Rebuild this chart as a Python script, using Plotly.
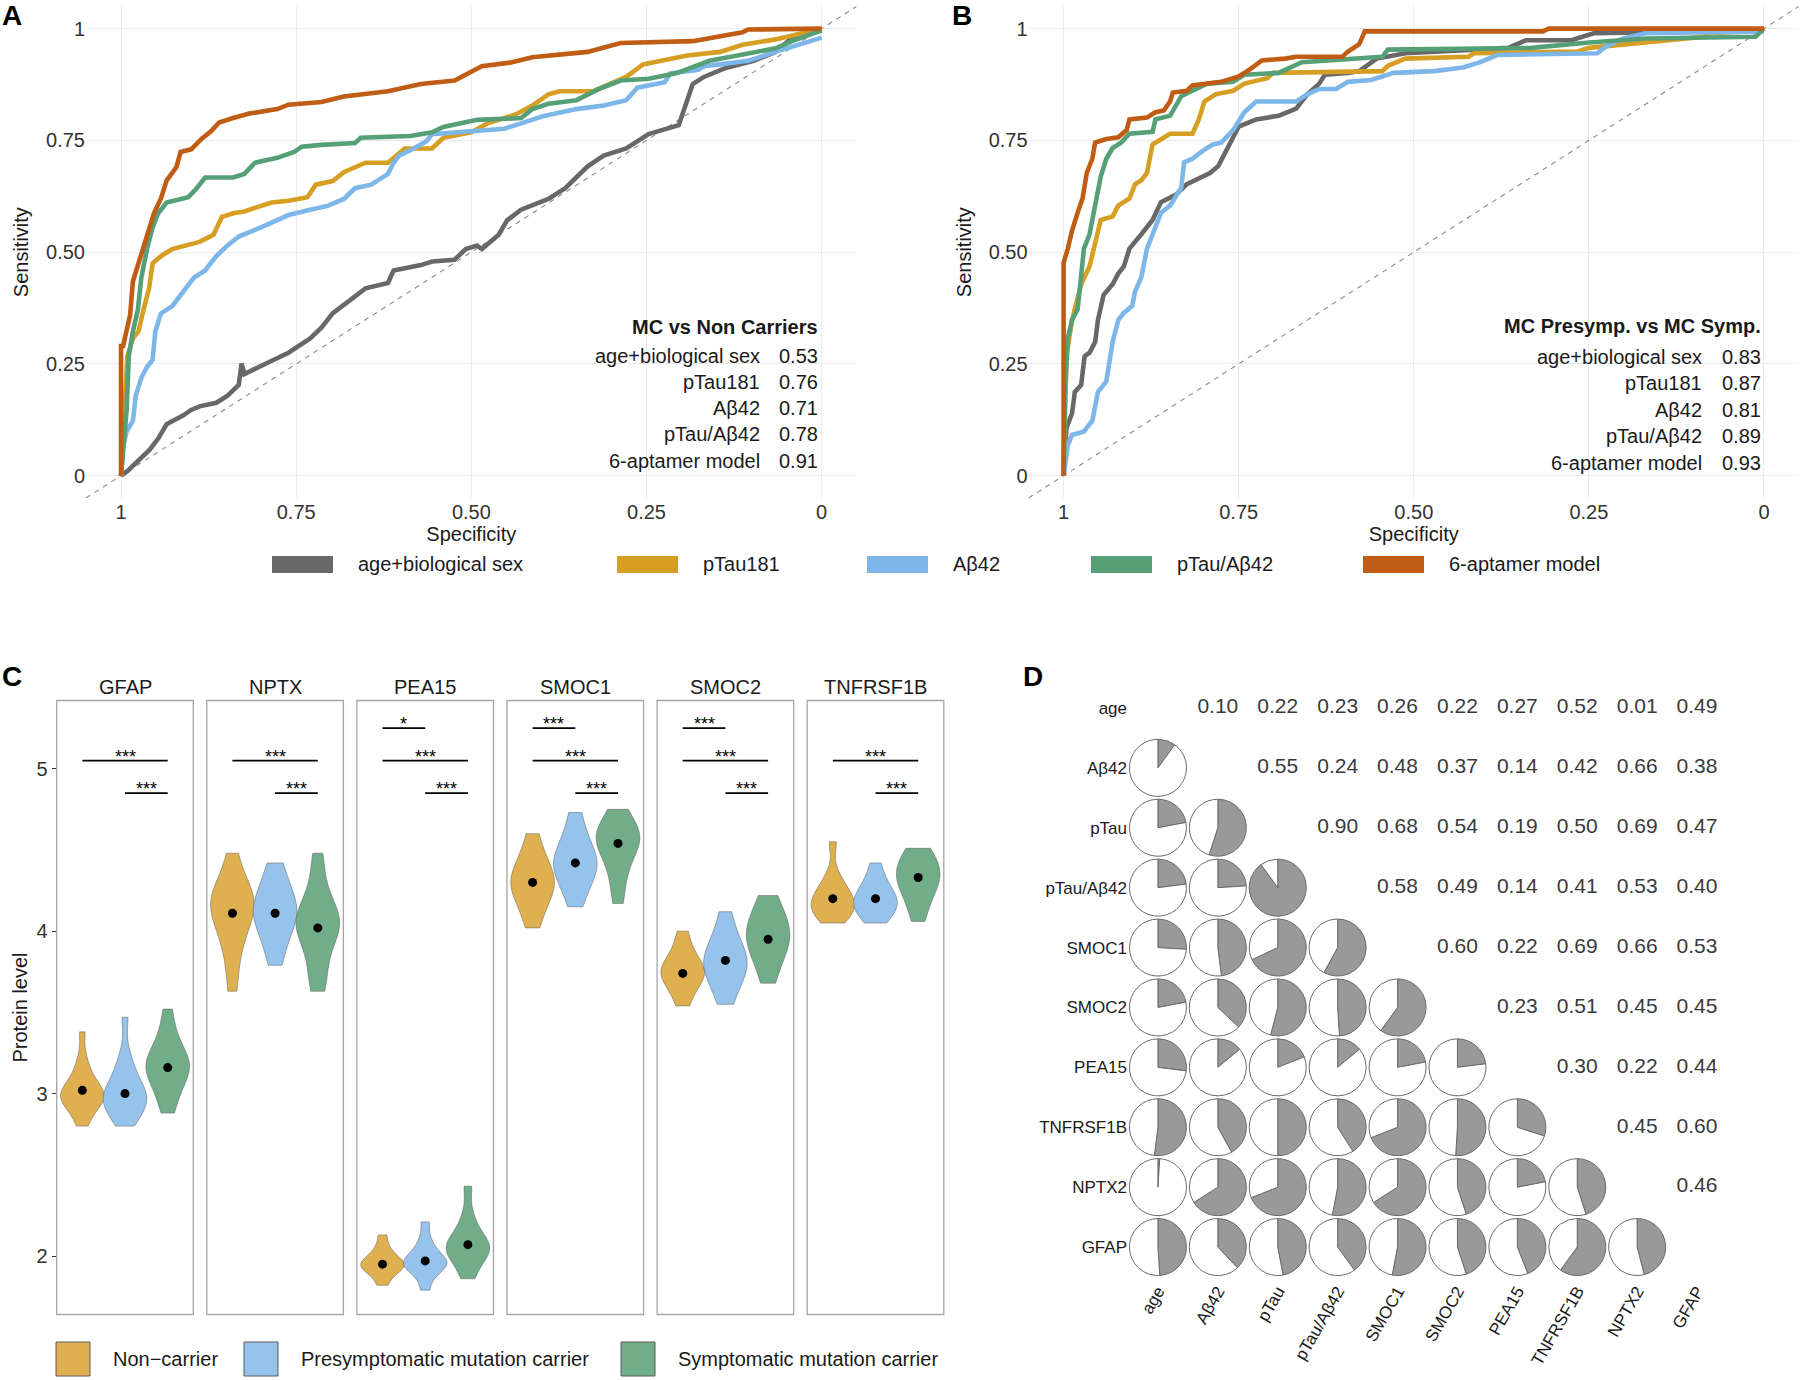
import plotly.graph_objects as go

W, H = 1800, 1380


def px(x):
    return x / W


def py(y):
    return 1 - y / H


FONT = "Liberation Sans, Arial, sans-serif"
TXT = "#1a1a1a"
TICK = "#333333"
GRID = "#EBEBEB"

# ---------------- ROC data ----------------
MODELS = ["age+biological sex", "pTau181", "Aβ42", "pTau/Aβ42", "6-aptamer model"]
MODEL_COLORS = ["#686868", "#D69E22", "#7DB6E8", "#56A077", "#C05C14"]
AUC_A = ["0.53", "0.76", "0.71", "0.78", "0.91"]
AUC_B = ["0.83", "0.87", "0.81", "0.89", "0.93"]
TITLE_A = "MC vs Non Carriers"
TITLE_B = "MC Presymp. vs MC Symp."
SPEC_TICKS = [1, 0.75, 0.5, 0.25, 0]
SPEC_LABELS = ["1", "0.75", "0.50", "0.25", "0"]
SENS_TICKS = [0, 0.25, 0.5, 0.75, 1]
SENS_LABELS = ["0", "0.25", "0.50", "0.75", "1"]

A_AGE_SPEC = [1, 0.991, 0.975, 0.959, 0.947, 0.935, 0.911, 0.900, 0.888, 0.864, 0.848, 0.832, 0.828, 0.824, 0.793, 0.761, 0.730, 0.714, 0.698, 0.682, 0.666, 0.651, 0.619, 0.611, 0.572, 0.556, 0.524, 0.508, 0.492, 0.485, 0.461, 0.449, 0.429, 0.390, 0.366, 0.334, 0.311, 0.279, 0.247, 0.224, 0.204, 0.184, 0.168, 0.137, 0.097, 0.066, 0.042, 0]
A_AGE_SENS = [0, 0.01, 0.034, 0.058, 0.083, 0.115, 0.135, 0.147, 0.155, 0.163, 0.179, 0.203, 0.251, 0.227, 0.251, 0.275, 0.307, 0.331, 0.363, 0.383, 0.403, 0.419, 0.431, 0.459, 0.471, 0.479, 0.483, 0.507, 0.515, 0.507, 0.539, 0.571, 0.595, 0.619, 0.643, 0.692, 0.716, 0.732, 0.764, 0.776, 0.784, 0.876, 0.892, 0.912, 0.928, 0.948, 0.98, 0.996]
A_PTAU_SPEC = [1, 0.991, 0.983, 0.975, 0.968, 0.960, 0.955, 0.943, 0.927, 0.904, 0.888, 0.868, 0.856, 0.840, 0.824, 0.809, 0.785, 0.761, 0.734, 0.722, 0.698, 0.682, 0.651, 0.619, 0.595, 0.556, 0.540, 0.500, 0.477, 0.437, 0.413, 0.390, 0.374, 0.326, 0.303, 0.279, 0.255, 0.232, 0.192, 0.145, 0.113, 0.066, 0.034, 0]
A_PTAU_SENS = [0, 0.267, 0.307, 0.323, 0.371, 0.419, 0.475, 0.491, 0.507, 0.515, 0.523, 0.539, 0.579, 0.587, 0.591, 0.599, 0.611, 0.615, 0.623, 0.651, 0.659, 0.679, 0.70, 0.70, 0.732, 0.732, 0.756, 0.768, 0.788, 0.808, 0.828, 0.853, 0.86, 0.86, 0.876, 0.892, 0.92, 0.928, 0.94, 0.948, 0.964, 0.976, 0.988, 1.0]
A_AB_SPEC = [1, 0.997, 0.992, 0.983, 0.979, 0.971, 0.963, 0.955, 0.951, 0.943, 0.927, 0.919, 0.907, 0.896, 0.880, 0.864, 0.848, 0.832, 0.801, 0.785, 0.761, 0.730, 0.706, 0.682, 0.666, 0.643, 0.619, 0.611, 0.603, 0.587, 0.564, 0.556, 0.524, 0.492, 0.453, 0.429, 0.398, 0.350, 0.311, 0.279, 0.263, 0.224, 0.216, 0.176, 0.168, 0.145, 0.105, 0.066, 0.034, 0]
A_AB_SENS = [0, 0.066, 0.099, 0.123, 0.179, 0.219, 0.243, 0.259, 0.323, 0.363, 0.379, 0.395, 0.419, 0.443, 0.459, 0.491, 0.515, 0.535, 0.555, 0.567, 0.583, 0.595, 0.603, 0.619, 0.643, 0.651, 0.675, 0.70, 0.716, 0.728, 0.748, 0.764, 0.768, 0.772, 0.776, 0.788, 0.804, 0.82, 0.828, 0.84, 0.868, 0.88, 0.90, 0.908, 0.916, 0.92, 0.928, 0.948, 0.964, 0.98]
A_RATIO_SPEC = [1, 0.992, 0.989, 0.983, 0.976, 0.971, 0.963, 0.955, 0.947, 0.935, 0.904, 0.892, 0.880, 0.840, 0.824, 0.809, 0.777, 0.753, 0.742, 0.714, 0.666, 0.658, 0.587, 0.556, 0.540, 0.508, 0.492, 0.429, 0.413, 0.390, 0.350, 0.319, 0.287, 0.247, 0.208, 0.160, 0.105, 0.066, 0.042, 0]
A_RATIO_SENS = [0, 0.147, 0.267, 0.323, 0.371, 0.443, 0.507, 0.555, 0.587, 0.611, 0.623, 0.643, 0.667, 0.667, 0.675, 0.70, 0.711, 0.724, 0.736, 0.74, 0.744, 0.756, 0.76, 0.768, 0.78, 0.792, 0.796, 0.80, 0.82, 0.832, 0.84, 0.864, 0.884, 0.888, 0.90, 0.928, 0.944, 0.956, 0.972, 0.996]
A_APT_SPEC = [1, 1, 0.997, 0.987, 0.983, 0.975, 0.968, 0.960, 0.953, 0.943, 0.935, 0.921, 0.915, 0.900, 0.884, 0.872, 0.860, 0.840, 0.817, 0.777, 0.761, 0.714, 0.682, 0.619, 0.572, 0.524, 0.485, 0.445, 0.413, 0.334, 0.287, 0.184, 0.113, 0.105, 0]
A_APT_SENS = [0, 0.29, 0.29, 0.36, 0.435, 0.475, 0.515, 0.555, 0.587, 0.62, 0.66, 0.69, 0.724, 0.73, 0.755, 0.77, 0.79, 0.80, 0.81, 0.82, 0.83, 0.836, 0.848, 0.86, 0.876, 0.884, 0.916, 0.924, 0.936, 0.948, 0.968, 0.972, 0.992, 0.998, 1.0]

B_AGE_SPEC = [1, 0.996, 0.988, 0.984, 0.975, 0.970, 0.963, 0.955, 0.951, 0.943, 0.930, 0.922, 0.914, 0.906, 0.889, 0.873, 0.861, 0.840, 0.824, 0.791, 0.779, 0.766, 0.750, 0.725, 0.693, 0.668, 0.652, 0.635, 0.627, 0.594, 0.578, 0.553, 0.512, 0.365, 0.340, 0.275, 0.242, 0]
B_AGE_SENS = [0, 0.107, 0.139, 0.187, 0.203, 0.267, 0.275, 0.299, 0.348, 0.404, 0.428, 0.452, 0.468, 0.508, 0.540, 0.572, 0.612, 0.628, 0.652, 0.677, 0.693, 0.733, 0.781, 0.797, 0.805, 0.821, 0.853, 0.877, 0.897, 0.901, 0.905, 0.933, 0.945, 0.957, 0.974, 0.974, 0.990, 0.996]
B_PTAU_SPEC = [1, 0.996, 0.988, 0.975, 0.963, 0.955, 0.947, 0.930, 0.922, 0.906, 0.898, 0.889, 0.881, 0.873, 0.865, 0.848, 0.816, 0.807, 0.799, 0.783, 0.758, 0.742, 0.709, 0.701, 0.545, 0.537, 0.512, 0.422, 0.414, 0.266, 0.250, 0.086, 0.078, 0]
B_PTAU_SENS = [0, 0.267, 0.348, 0.428, 0.468, 0.524, 0.572, 0.580, 0.604, 0.620, 0.652, 0.661, 0.677, 0.741, 0.749, 0.765, 0.765, 0.797, 0.837, 0.853, 0.861, 0.877, 0.889, 0.901, 0.905, 0.917, 0.933, 0.937, 0.945, 0.949, 0.957, 0.982, 0.99, 0.996]
B_AB_SPEC = [1, 0.994, 0.988, 0.971, 0.959, 0.951, 0.939, 0.930, 0.922, 0.914, 0.902, 0.898, 0.889, 0.881, 0.869, 0.861, 0.848, 0.832, 0.828, 0.816, 0.803, 0.787, 0.775, 0.758, 0.742, 0.725, 0.668, 0.652, 0.635, 0.611, 0.594, 0.561, 0.545, 0.529, 0.471, 0.430, 0.405, 0.381, 0.238, 0.225, 0.201, 0.168, 0]
B_AB_SENS = [0, 0.067, 0.091, 0.099, 0.123, 0.187, 0.211, 0.299, 0.348, 0.364, 0.380, 0.412, 0.444, 0.508, 0.556, 0.588, 0.604, 0.644, 0.701, 0.709, 0.725, 0.741, 0.745, 0.773, 0.813, 0.837, 0.837, 0.853, 0.865, 0.865, 0.881, 0.885, 0.893, 0.901, 0.905, 0.913, 0.925, 0.941, 0.945, 0.961, 0.978, 0.990, 0.994]
B_RATIO_SPEC = [1, 0.998, 0.994, 0.988, 0.980, 0.975, 0.971, 0.963, 0.955, 0.947, 0.939, 0.930, 0.918, 0.906, 0.873, 0.869, 0.848, 0.840, 0.832, 0.816, 0.795, 0.758, 0.742, 0.693, 0.660, 0.545, 0.537, 0.332, 0.250, 0.168, 0.012, 0]
B_RATIO_SENS = [0, 0.187, 0.307, 0.348, 0.372, 0.444, 0.508, 0.540, 0.604, 0.669, 0.709, 0.733, 0.745, 0.765, 0.769, 0.797, 0.805, 0.829, 0.849, 0.861, 0.877, 0.881, 0.897, 0.901, 0.925, 0.937, 0.953, 0.957, 0.969, 0.978, 0.982, 1.0]
B_APT_SPEC = [1, 1, 0.994, 0.988, 0.980, 0.973, 0.967, 0.959, 0.955, 0.939, 0.922, 0.910, 0.906, 0.881, 0.869, 0.857, 0.848, 0.844, 0.824, 0.816, 0.775, 0.750, 0.734, 0.717, 0.684, 0.668, 0.602, 0.594, 0.578, 0.570, 0.316, 0.307, 0]
B_APT_SENS = [0, 0.476, 0.508, 0.548, 0.588, 0.62, 0.677, 0.709, 0.745, 0.753, 0.757, 0.773, 0.797, 0.801, 0.813, 0.817, 0.837, 0.857, 0.861, 0.873, 0.881, 0.893, 0.909, 0.929, 0.933, 0.937, 0.937, 0.949, 0.965, 0.994, 0.994, 1.0, 1.0]

ROC_A = [(A_AGE_SPEC, A_AGE_SENS), (A_PTAU_SPEC, A_PTAU_SENS), (A_AB_SPEC, A_AB_SENS),
         (A_RATIO_SPEC, A_RATIO_SENS), (A_APT_SPEC, A_APT_SENS)]
ROC_B = [(B_AGE_SPEC, B_AGE_SENS), (B_PTAU_SPEC, B_PTAU_SENS), (B_AB_SPEC, B_AB_SENS),
         (B_RATIO_SPEC, B_RATIO_SENS), (B_APT_SPEC, B_APT_SENS)]

# ---------------- Violin data ----------------
PROTEINS = ["GFAP", "NPTX", "PEA15", "SMOC1", "SMOC2", "TNFRSF1B"]
GROUPS = ["Non\u2212carrier", "Presymptomatic mutation carrier", "Symptomatic mutation carrier"]
GROUP_COLORS = ["#DFB04F", "#96C3EC", "#72AD89"]
GFAP = [[2.80, 2.86, 2.90, 2.93, 2.95, 2.97, 2.98, 2.99, 3.00, 3.02, 3.04, 3.07, 3.10, 3.15, 3.22, 3.38],
        [2.80, 2.85, 2.89, 2.92, 2.94, 2.96, 2.98, 3.00, 3.03, 3.06, 3.10, 3.16, 3.24, 3.47],
        [2.88, 2.96, 3.02, 3.07, 3.11, 3.14, 3.16, 3.18, 3.20, 3.23, 3.27, 3.32, 3.40, 3.52]]
NPTX = [[3.63, 3.80, 3.92, 4.00, 4.06, 4.10, 4.14, 4.17, 4.20, 4.23, 4.27, 4.33, 4.48],
        [3.79, 3.88, 3.96, 4.02, 4.06, 4.09, 4.12, 4.15, 4.18, 4.22, 4.27, 4.35, 4.42],
        [3.63, 3.70, 3.80, 3.90, 3.96, 4.00, 4.03, 4.06, 4.08, 4.11, 4.15, 4.22, 4.35, 4.48]]
PEA15 = [[1.82, 1.88, 1.91, 1.93, 1.94, 1.95, 1.96, 1.98, 2.01, 2.05, 2.13],
         [1.79, 1.88, 1.92, 1.94, 1.95, 1.96, 1.98, 2.00, 2.04, 2.10, 2.21],
         [1.86, 1.94, 1.99, 2.02, 2.04, 2.06, 2.08, 2.11, 2.16, 2.25, 2.43]]
SMOC1 = [[4.02, 4.12, 4.19, 4.24, 4.27, 4.30, 4.33, 4.37, 4.42, 4.48, 4.60],
         [4.15, 4.25, 4.31, 4.36, 4.39, 4.42, 4.45, 4.49, 4.54, 4.62, 4.73],
         [4.17, 4.30, 4.40, 4.47, 4.52, 4.55, 4.58, 4.60, 4.63, 4.67, 4.75]]
SMOC2 = [[3.54, 3.62, 3.67, 3.71, 3.73, 3.75, 3.77, 3.80, 3.84, 3.90, 4.00],
         [3.55, 3.64, 3.70, 3.75, 3.78, 3.81, 3.84, 3.88, 3.93, 4.00, 4.12],
         [3.68, 3.78, 3.85, 3.90, 3.94, 3.97, 4.00, 4.04, 4.09, 4.15, 4.22]]
TNFRSF1B = [[4.05, 4.09, 4.12, 4.14, 4.16, 4.18, 4.21, 4.24, 4.28, 4.34, 4.55],
            [4.05, 4.09, 4.12, 4.15, 4.17, 4.19, 4.21, 4.24, 4.28, 4.33, 4.42],
            [4.06, 4.15, 4.22, 4.27, 4.30, 4.33, 4.36, 4.39, 4.43, 4.47, 4.51]]
VIOLIN_DATA = [GFAP, NPTX, PEA15, SMOC1, SMOC2, TNFRSF1B]
MEANS = [[3.02, 3.00, 3.16], [4.11, 4.11, 4.02], [1.95, 1.97, 2.07],
         [4.30, 4.42, 4.54], [3.74, 3.82, 3.95], [4.20, 4.20, 4.33]]
# significance comparisons: (group a, group b, label)
SIG = [[(1, 3, "***"), (2, 3, "***")],
       [(1, 3, "***"), (2, 3, "***")],
       [(1, 2, "*"), (1, 3, "***"), (2, 3, "***")],
       [(1, 2, "***"), (1, 3, "***"), (2, 3, "***")],
       [(1, 2, "***"), (1, 3, "***"), (2, 3, "***")],
       [(1, 3, "***"), (2, 3, "***")]]
SIG_LEVEL = {(1, 2): 5.25, (1, 3): 5.05, (2, 3): 4.85}
PROT_TICKS = [2, 3, 4, 5]

# ---------------- Correlation data ----------------
VARS = ["age", "Aβ42", "pTau", "pTau/Aβ42", "SMOC1", "SMOC2", "PEA15", "TNFRSF1B", "NPTX2", "GFAP"]
CORR_UPPER = [
    [0.10, 0.22, 0.23, 0.26, 0.22, 0.27, 0.52, 0.01, 0.49],
    [0.55, 0.24, 0.48, 0.37, 0.14, 0.42, 0.66, 0.38],
    [0.90, 0.68, 0.54, 0.19, 0.50, 0.69, 0.47],
    [0.58, 0.49, 0.14, 0.41, 0.53, 0.40],
    [0.60, 0.22, 0.69, 0.66, 0.53],
    [0.23, 0.51, 0.45, 0.45],
    [0.30, 0.22, 0.44],
    [0.45, 0.60],
    [0.46],
]


def corr(i, j):
    a, b = min(i, j), max(i, j)
    return CORR_UPPER[a][b - a - 1]


fig = go.Figure()

# ---------------- Panels A & B ----------------
A_DOM_X = [px(86), px(856.7)]
B_DOM_X = [px(1028.6), px(1799)]
AB_DOM_Y = [py(498.0), py(6.3)]

for xa, ya, rocs in [("x", "y", ROC_A), ("x2", "y2", ROC_B)]:
    fig.add_trace(go.Scatter(x=[1.05, -0.05], y=[-0.05, 1.05], mode="lines",
                             line=dict(color="#8a8a8a", width=1.1, dash="5px,5px"),
                             xaxis=xa, yaxis=ya, showlegend=False, hoverinfo="skip"))
    for (spec, sens), name, col in zip(rocs, MODELS, MODEL_COLORS):
        fig.add_trace(go.Scatter(x=spec, y=sens, mode="lines", name=name,
                                 line=dict(color=col, width=4.6), xaxis=xa, yaxis=ya,
                                 showlegend=False))

axis_ab = dict(showgrid=True, gridcolor=GRID, gridwidth=1.2, zeroline=False, showline=False,
               ticks="", tickfont=dict(size=20, color=TICK, family=FONT))
fig.update_layout(
    xaxis=dict(domain=A_DOM_X, range=[1.05, -0.05], anchor="y", tickvals=SPEC_TICKS, ticktext=SPEC_LABELS,
               title=dict(text="Specificity", standoff=2, font=dict(size=20, color=TXT)), **axis_ab),
    yaxis=dict(domain=AB_DOM_Y, range=[-0.05, 1.05], anchor="x", tickvals=SENS_TICKS, ticktext=SENS_LABELS,
               title=dict(text="Sensitivity", standoff=12, font=dict(size=20, color=TXT)), **axis_ab),
    xaxis2=dict(domain=B_DOM_X, range=[1.05, -0.05], anchor="y2", tickvals=SPEC_TICKS, ticktext=SPEC_LABELS,
                title=dict(text="Specificity", standoff=2, font=dict(size=20, color=TXT)), **axis_ab),
    yaxis2=dict(domain=AB_DOM_Y, range=[-0.05, 1.05], anchor="x2", tickvals=SENS_TICKS, ticktext=SENS_LABELS,
                title=dict(text="Sensitivity", standoff=11, font=dict(size=20, color=TXT)), **axis_ab),
)

annotations = []
# AUC tables
for title, aucs, lab_right, val_right, title_y, rows_y in [
        (TITLE_A, AUC_A, 761.5, 819.5, 327, [355.5, 382, 408, 434.5, 460.5]),
        (TITLE_B, AUC_B, 1704, 1763, 326, [357, 383, 409.5, 436, 462.5])]:
    annotations.append(dict(text="<b>" + title + "</b>", x=px(val_right), y=py(title_y), xref="paper", yref="paper",
                            xanchor="right", yanchor="middle", showarrow=False,
                            font=dict(size=20, color=TXT, family=FONT)))
    for name, auc, yy in zip(MODELS, aucs, rows_y):
        annotations.append(dict(text=name, x=px(lab_right), y=py(yy), xref="paper", yref="paper",
                                xanchor="right", yanchor="middle", showarrow=False,
                                font=dict(size=20, color=TXT, family=FONT)))
        annotations.append(dict(text=auc, x=px(val_right), y=py(yy), xref="paper", yref="paper",
                                xanchor="right", yanchor="middle", showarrow=False,
                                font=dict(size=20, color=TXT, family=FONT)))

shapes = []
# ROC legend (manual keys)
ROC_KEY_X = [272, 617, 867, 1091, 1363]
for name, col, kx in zip(MODELS, MODEL_COLORS, ROC_KEY_X):
    shapes.append(dict(type="rect", xref="paper", yref="paper", x0=px(kx), x1=px(kx + 61),
                       y0=py(573), y1=py(556), fillcolor=col, line=dict(width=0)))
    annotations.append(dict(text=name, x=px(kx + 84), y=py(564), xref="paper", yref="paper",
                            xanchor="left", yanchor="middle", showarrow=False,
                            font=dict(size=20, color=TXT, family=FONT)))

# ---------------- Panel C ----------------
C_X0, C_PITCH, C_W = 56.7, 150.1, 136.6
C_DOM_Y = [py(1314.5), py(700.5)]
for k, (prot, vdata, means, sigs) in enumerate(zip(PROTEINS, VIOLIN_DATA, MEANS, SIG)):
    ax = "x%d" % (3 + k)
    for g, (vals, col) in enumerate(zip(vdata, GROUP_COLORS)):
        fig.add_trace(go.Violin(x=[g + 1] * len(vals), y=vals, xaxis=ax, yaxis="y3",
                                fillcolor=col, line=dict(color="rgba(90,90,90,0.7)", width=0.7),
                                opacity=1, width=1.02, scalegroup=prot, scalemode="width",
                                spanmode="hard", points=False, box_visible=False,
                                meanline_visible=False, showlegend=False, hoverinfo="skip",
                                name=GROUPS[g]))
    fig.add_trace(go.Scatter(x=[1, 2, 3], y=means, mode="markers", xaxis=ax, yaxis="y3",
                             marker=dict(color="black", size=9), showlegend=False, hoverinfo="skip"))
    for a, b, lab in sigs:
        lvl = SIG_LEVEL[(a, b)]
        fig.add_trace(go.Scatter(x=[a, b], y=[lvl, lvl], mode="lines", xaxis=ax, yaxis="y3",
                                 line=dict(color="black", width=1.6), showlegend=False, hoverinfo="skip"))
        annotations.append(dict(text=lab, x=(a + b) / 2, y=lvl, xref=ax, yref="y3",
                                xanchor="center", yanchor="bottom", showarrow=False, yshift=-8,
                                font=dict(size=18, color="black", family=FONT)))
    x0 = C_X0 + k * C_PITCH
    fig.layout["xaxis%d" % (3 + k)] = dict(domain=[px(x0), px(x0 + C_W)], range=[0.4, 3.6], anchor="y3",
                                          showgrid=False, zeroline=False, showticklabels=False,
                                          ticks="", showline=False)
    shapes.append(dict(type="rect", xref="x%d domain" % (3 + k), yref="y3 domain", x0=0, x1=1, y0=0, y1=1,
                       line=dict(color="#A6A6A6", width=1.3), fillcolor="rgba(0,0,0,0)", layer="below"))
    annotations.append(dict(text=prot, x=0.5, y=1, xref="x%d domain" % (3 + k), yref="y3 domain",
                            xanchor="center", yanchor="bottom", yshift=1, showarrow=False,
                            font=dict(size=20, color=TXT, family=FONT)))

fig.update_layout(
    yaxis3=dict(domain=C_DOM_Y, range=[1.64, 5.42], anchor="x3", tickvals=PROT_TICKS,
                showgrid=False, zeroline=False, showline=False, ticks="outside", ticklen=4,
                tickcolor="#333333", tickwidth=1.2, tickfont=dict(size=20, color=TICK, family=FONT),
                title=dict(text="Protein level", standoff=3, font=dict(size=20, color=TXT))),
    violinmode="overlay",
)

# Panel C legend (manual keys)
C_KEY_X = [56, 244, 621]
for name, col, kx in zip(GROUPS, GROUP_COLORS, C_KEY_X):
    shapes.append(dict(type="rect", xref="paper", yref="paper", x0=px(kx), x1=px(kx + 34),
                       y0=py(1376), y1=py(1342), fillcolor=col, line=dict(color="#5a5a5a", width=1)))
    annotations.append(dict(text=name, x=px(kx + 55), y=py(1359), xref="paper", yref="paper",
                            xanchor="left", yanchor="middle", showarrow=False,
                            font=dict(size=20, color=TXT, family=FONT)))

# ---------------- Panel D ----------------
D_X0, D_Y0, CELL, PIE_R = 1128.0, 678.0, 59.9, 28.5
n = len(VARS)
idx = list(range(n))
fig.update_layout(
    xaxis9=dict(domain=[px(D_X0), px(D_X0 + n * CELL)], range=[-0.5, n - 0.5], anchor="y9",
                tickvals=idx, ticktext=VARS, tickangle=-60, showgrid=False, zeroline=False,
                showline=False, ticks="", tickfont=dict(size=17, color=TXT, family=FONT)),
    yaxis9=dict(domain=[py(D_Y0 + n * CELL), py(D_Y0)], range=[n - 0.5, -0.5], anchor="x9",
                tickvals=idx, ticktext=VARS, showgrid=False, zeroline=False,
                showline=False, ticks="", tickfont=dict(size=17, color=TXT, family=FONT)),
)
num_x, num_y, num_t = [], [], []
for i in range(n):
    for j in range(i + 1, n):
        num_x.append(j)
        num_y.append(i)
        num_t.append("%.2f" % corr(i, j))
fig.add_trace(go.Scatter(x=num_x, y=num_y, text=num_t, mode="text", xaxis="x9", yaxis="y9",
                         textfont=dict(size=21, color="#3a3a3a", family=FONT),
                         showlegend=False, hoverinfo="skip"))
for i in range(n):
    for j in range(i):
        v = corr(i, j)
        cx = D_X0 + (j + 0.5) * CELL
        cy = D_Y0 + (i + 0.5) * CELL
        fig.add_trace(go.Pie(values=[v, 1 - v], sort=False, direction="clockwise", rotation=0,
                             marker=dict(colors=["#999999", "#FFFFFF"], line=dict(color="#6a6a6a", width=1)),
                             textinfo="none", hoverinfo="skip", showlegend=False,
                             domain=dict(x=[px(cx - PIE_R), px(cx + PIE_R)],
                                         y=[py(cy + PIE_R), py(cy - PIE_R)])))

# panel letters
for letter, lx, ly in [("A", 12, 15), ("B", 962, 15), ("C", 12, 676), ("D", 1033, 676)]:
    annotations.append(dict(text="<b>" + letter + "</b>", x=px(lx), y=py(ly), xref="paper", yref="paper",
                            xanchor="center", yanchor="middle", showarrow=False,
                            font=dict(size=28, color="black", family=FONT)))

fig.update_layout(
    width=W, height=H, margin=dict(l=0, r=0, t=0, b=0),
    paper_bgcolor="white", plot_bgcolor="white",
    font=dict(family=FONT, color=TXT),
    showlegend=False,
    annotations=annotations, shapes=shapes,
)

fig.write_html("out.html", config={"displayModeBar": False},
               post_script="document.body.style.margin='0px';document.body.style.overflow='hidden';")
